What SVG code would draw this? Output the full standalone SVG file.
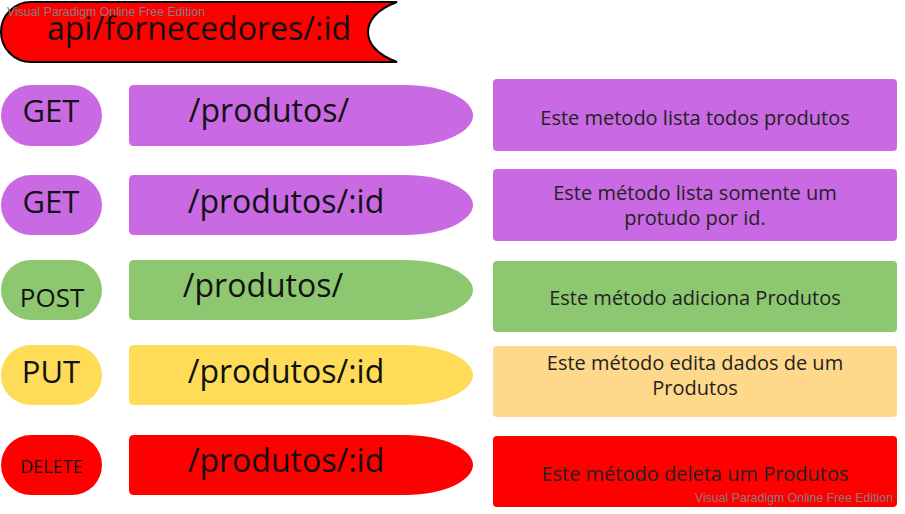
<svg xmlns="http://www.w3.org/2000/svg" width="905" height="514" viewBox="0 0 905 514">
<style>
  .t { font-family: "Open Sans", "Noto Sans", "DejaVu Sans", sans-serif; fill: #111; text-anchor: middle; }
  .big { font-size: 32px; }
  .pill { font-size: 31px; }
  .desc { font-size: 20px; fill: #222; }
  .wm { font-family: "Liberation Sans", Arial, sans-serif; font-size: 12px; fill: #7f7f7f; }
  .purple { fill: #c969e4; }
  .green { fill: #8dc870; }
  .yellow { fill: #fedc58; }
  .ylight { fill: #fed98b; }
  .red { fill: #ff0000; }
</style>
<rect width="905" height="514" fill="#ffffff"/>

<g id="title">
  <path d="M 31 2 H 397 C 375 10 368 22 368 32 C 368 42 375 54 397 62 H 31 A 30 30 0 0 1 31 2 Z" fill="#ff0000" stroke="#000" stroke-width="2"/>
  <text class="t big" x="199" y="40">api/fornecedores/:id</text>
</g>

<!-- Row 1 -->
<g id="method-get-1">
  <rect class="purple" x="1" y="85" width="101" height="61" rx="30.5"/>
  <text class="t pill" x="51" y="122">GET</text>
</g>
<g id="path-1">
  <path class="purple" d="M 134 85 H 405 C 445 85 473 100 473 115.5 C 473 131 445 146 405 146 H 134 Q 129 146 129 141 V 90 Q 129 85 134 85 Z"/>
  <text class="t big" x="269" y="122">/produtos/</text>
</g>
<g id="desc-1">
  <rect class="purple" x="493" y="79" width="404" height="72" rx="4"/>
  <text class="t desc" x="695" y="125">Este metodo lista todos produtos</text>
</g>

<!-- Row 2 -->
<g id="method-get-2">
  <rect class="purple" x="1" y="175" width="101" height="60" rx="30"/>
  <text class="t pill" x="51" y="213">GET</text>
</g>
<g id="path-2">
  <path class="purple" d="M 134 175 H 405 C 445 175 473 190 473 205 C 473 220 445 235 405 235 H 134 Q 129 235 129 230 V 180 Q 129 175 134 175 Z"/>
  <text class="t big" x="286" y="213">/produtos/:id</text>
</g>
<g id="desc-2">
  <rect class="purple" x="493" y="169" width="404" height="72" rx="4"/>
  <text class="t desc" x="695" y="200">Este método lista somente um</text>
  <text class="t desc" x="695" y="225">protudo por id.</text>
</g>

<!-- Row 3 -->
<g id="method-post">
  <rect class="green" x="1" y="260" width="101" height="60" rx="30"/>
  <text class="t" x="52" y="307" font-size="26">POST</text>
</g>
<g id="path-3">
  <path class="green" d="M 134 260 H 405 C 445 260 473 275 473 290 C 473 305 445 320 405 320 H 134 Q 129 320 129 315 V 265 Q 129 260 134 260 Z"/>
  <text class="t big" x="263" y="297">/produtos/</text>
</g>
<g id="desc-3">
  <rect class="green" x="493" y="261" width="404" height="71" rx="4"/>
  <text class="t desc" x="695" y="305">Este método adiciona Produtos</text>
</g>

<!-- Row 4 -->
<g id="method-put">
  <rect class="yellow" x="1" y="345" width="101" height="60" rx="30"/>
  <text class="t pill" x="51" y="383">PUT</text>
</g>
<g id="path-4">
  <path class="yellow" d="M 134 345 H 405 C 445 345 473 360 473 375 C 473 390 445 405 405 405 H 134 Q 129 405 129 400 V 350 Q 129 345 134 345 Z"/>
  <text class="t big" x="286" y="383">/produtos/:id</text>
</g>
<g id="desc-4">
  <rect class="ylight" x="493" y="346" width="404" height="71" rx="4"/>
  <text class="t desc" x="695" y="370">Este método edita dados de um</text>
  <text class="t desc" x="695" y="395">Produtos</text>
</g>

<!-- Row 5 -->
<g id="method-delete">
  <rect class="red" x="1" y="435" width="101" height="60" rx="30"/>
  <text class="t" x="51.5" y="473" font-size="18">DELETE</text>
</g>
<g id="path-5">
  <path class="red" d="M 134 435 H 405 C 445 435 473 450 473 465 C 473 480 445 495 405 495 H 134 Q 129 495 129 490 V 440 Q 129 435 134 435 Z"/>
  <text class="t big" x="286" y="472">/produtos/:id</text>
</g>
<g id="desc-5">
  <rect class="red" x="493" y="436" width="404" height="71" rx="4"/>
  <text class="t desc" x="695" y="481">Este método deleta um Produtos</text>
</g>

<g id="connectors"/>

<g id="watermarks">
  <text class="wm" x="7" y="16" textLength="198" lengthAdjust="spacingAndGlyphs">Visual Paradigm Online Free Edition</text>
  <text class="wm" x="695" y="502" textLength="198" lengthAdjust="spacingAndGlyphs">Visual Paradigm Online Free Edition</text>
</g>
</svg>
